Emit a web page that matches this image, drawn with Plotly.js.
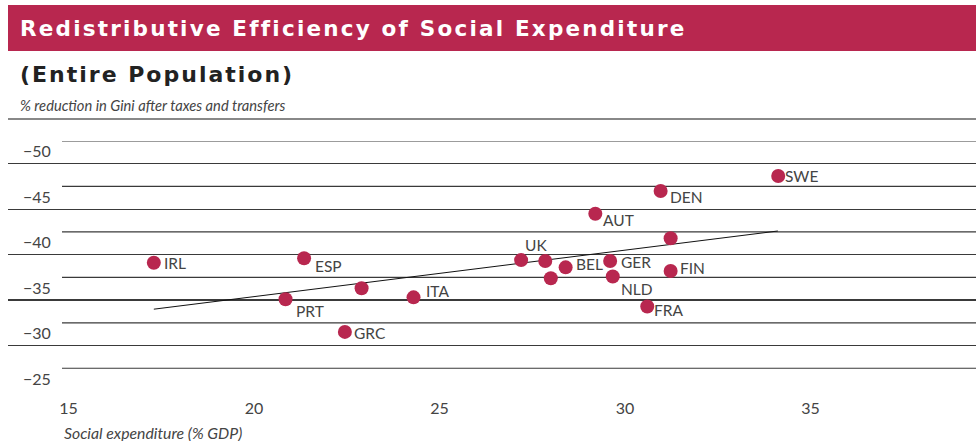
<!DOCTYPE html>
<html>
<head>
<meta charset="utf-8">
<script src="https://cdn.plot.ly/plotly-3.0.1.min.js"></script>
<style>
  html, body { margin: 0; padding: 0; background: #fff; }
  #chart { width: 976px; height: 441px; }
</style>
</head>
<body>
<div id="chart"></div>
<script>
// ---- data ----
const countries = ['IRL','ESP','PRT','GRC','','ITA','UK','','BEL','','GER','NLD','AUT','FRA','DEN','SWE','','FIN'];
const socialExpenditure = [17.3, 21.35, 20.85, 22.45, 22.9, 24.3, 27.2, 27.85, 28.4, 28.0, 29.6, 29.67, 29.2, 30.6, 30.96, 34.13, 31.23, 31.23];
const giniReduction = [-39.1, -39.6, -35.1, -31.5, -36.3, -35.3, -39.4, -39.3, -38.6, -37.4, -39.3, -37.6, -44.5, -34.3, -47.0, -48.65, -41.8, -38.2];
const trendX = [17.3, 34.12];
const trendY = [-34.0, -42.6];
const xTicks = [15, 20, 25, 30, 35];
const yTicks = [-50, -45, -40, -35, -30, -25];

// label nudges (pixels) relative to each marker: right, and down
const labelDx = [8, 9, 8, 7, 0, 10, 2, 0, 8, 0, 9, 6, 6, 5, 7, 5, 0, 7];
const labelDy = [0, 8, 12, 1, 0, -6, -15, 0, -3, 0, 1, 13, 6, 4, 6, 0, 0, -3];

const RED = '#B8274F';
const TEXT = '#444444';
const LABEL_FONT = 'Lato, "Open Sans", sans-serif';

const traces = [
  {
    x: trendX, y: trendY, type: 'scatter', mode: 'lines',
    line: { color: '#111', width: 1 }, hoverinfo: 'skip', showlegend: false
  },
  {
    x: socialExpenditure, y: giniReduction, text: countries,
    type: 'scatter', mode: 'markers',
    marker: { size: 14, color: RED, line: { width: 0 } },
    showlegend: false
  }
];

// minor (short) gridlines half-way between labelled ones
const shapes = yTicks.map(v => ({
  type: 'line', xref: 'paper', yref: 'y',
  x0: (62 - 8) / 968, x1: 1, y0: v - 2.5, y1: v - 2.5,
  line: { color: '#3a3a3a', width: 1.2 }, layer: 'below'
}));
// header bar
shapes.push({
  type: 'rect', xref: 'paper', yref: 'paper',
  x0: 0, x1: 1.002, y0: (391 - 51) / 250, y1: (391 - 5) / 250,
  fillcolor: RED, line: { width: 0 }
});
// separator under axis caption
shapes.push({
  type: 'line', xref: 'paper', yref: 'paper',
  x0: 0, x1: 1.002, y0: (391 - 119) / 250, y1: (391 - 119) / 250,
  line: { color: '#888', width: 2 }
});

const pointLabels = countries.map((c, i) => ({
  text: c, x: socialExpenditure[i], y: giniReduction[i], xref: 'x', yref: 'y',
  xanchor: 'left', yanchor: 'middle', showarrow: false,
  xshift: labelDx[i], yshift: -labelDy[i],
  font: { family: LABEL_FONT, size: 15.5, color: TEXT }
})).filter(a => a.text !== '');

const layout = {
  width: 976, height: 441,
  margin: { l: 8, r: 0, t: 141, b: 50, pad: 0 },
  paper_bgcolor: '#fff', plot_bgcolor: '#fff',
  showlegend: false,
  title: {
    text: '<span style="letter-spacing:2.2px">Redistributive Efficiency of Social Expenditure</span>',
    x: 20 / 976, xref: 'container', xanchor: 'left',
    y: 1 - 28 / 441, yref: 'container', yanchor: 'middle',
    font: { family: '"DejaVu Sans", sans-serif', size: 21.5, color: '#fff', weight: 'bold' }
  },
  xaxis: {
    range: [15 - 60.5 / 37.1, 15 + 907.5 / 37.1],
    tickvals: xTicks, ticktext: xTicks.map(String),
    showgrid: false, zeroline: false, showline: false, ticks: '',
    ticklabelstandoff: 6,
    tickfont: { family: LABEL_FONT, size: 16, color: TEXT },
    fixedrange: true
  },
  yaxis: {
    range: [-25, -52.5],
    tickvals: yTicks,
    showgrid: true, gridcolor: '#3a3a3a', gridwidth: 1.2,
    zeroline: false, showline: false, ticks: '',
    ticklabelposition: 'inside', ticklabelstandoff: 12, ticklabelshift: 12,
    tickfont: { family: LABEL_FONT, size: 16, color: TEXT },
    fixedrange: true
  },
  shapes: shapes,
  annotations: [
    {
      text: '<span style="letter-spacing:2px">(Entire Population)</span>', xref: 'paper', yref: 'paper',
      x: (18 - 8) / 968, y: (391 - 74) / 250, xanchor: 'left', yanchor: 'middle',
      showarrow: false,
      font: { family: '"DejaVu Sans", sans-serif', size: 22, color: '#222', weight: 'bold' }
    },
    {
      text: '<i>% reduction in Gini after taxes and transfers</i>', xref: 'paper', yref: 'paper',
      x: (18 - 8) / 968, y: (391 - 105) / 250, xanchor: 'left', yanchor: 'middle',
      showarrow: false,
      font: { family: LABEL_FONT, size: 14.7, color: TEXT }
    },
    {
      text: '<i>Social expenditure (% GDP)</i>', xref: 'paper', yref: 'paper',
      x: (62 - 8) / 968, y: (391 - 432) / 250, xanchor: 'left', yanchor: 'middle',
      showarrow: false,
      font: { family: LABEL_FONT, size: 15.8, color: TEXT }
    }
  ].concat(pointLabels)
};

Plotly.newPlot('chart', traces, layout, { staticPlot: true, displayModeBar: false });
</script>
</body>
</html>
